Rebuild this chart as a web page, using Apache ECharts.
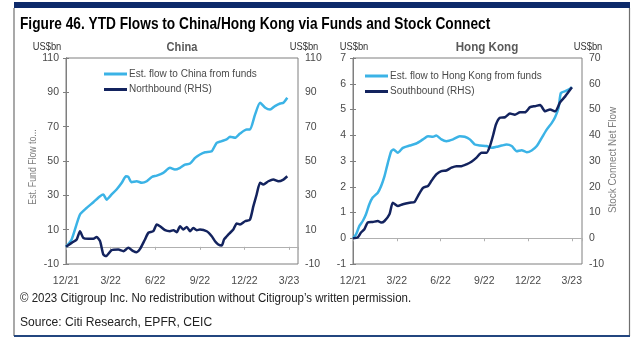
<!DOCTYPE html>
<html><head><meta charset="utf-8">
<script src="https://cdn.jsdelivr.net/npm/echarts@6/dist/echarts.min.js"></script>
<style>html,body{margin:0;padding:0;background:#fff}#c{width:640px;height:341px}</style>
</head><body><div id="c"></div>
<script>
// ---- data (x = months since end of Dec 2021) ----
var quarterLabels = ['12/21','3/22','6/22','9/22','12/22','3/23'];

var chinaFundX = [0,0.38,0.94,1.39,1.84,2.29,2.51,2.73,3.07,3.4,3.75,4.03,4.19,4.41,4.75,5.1,5.43,5.77,6.1,6.54,6.99,7.32,7.67,8.0,8.34,8.68,9.01,9.35,9.8,10.13,10.47,10.8,11.03,11.37,11.7,12.15,12.37,12.71,13.05,13.4,13.72,14.05,14.4,14.62,14.88];
var chinaFundY = [0,4.3,18.8,22.7,26,29.5,30.5,27.5,30.5,33.4,37.3,41.1,40.7,37.6,38.2,37.3,38.2,40.7,41.5,43.1,46,45,46,47.9,48.5,51.8,53.8,55.1,55.7,60.6,61.6,62.6,64.1,63.5,66,68.3,68.3,77,83.9,81,80,82,83.5,83.9,86.8];

var northboundX = [0,0.38,0.72,0.94,1.16,1.5,1.84,2.06,2.29,2.51,2.69,3.07,3.52,3.86,4.19,4.53,4.75,4.98,5.31,5.54,5.87,6.1,6.32,6.66,6.99,7.22,7.44,7.67,7.89,8.12,8.34,8.56,8.79,9.01,9.46,9.8,10.02,10.24,10.47,10.63,10.92,11.25,11.48,11.7,12.04,12.37,12.6,12.82,13.05,13.27,13.61,13.94,14.28,14.62,14.88];
var northboundY = [0,2.3,4.3,9.1,5.2,4.7,4.7,5.8,3.3,-4.5,-5.4,-1.9,-1.6,-2.5,-0.6,-2.5,-3.1,-1.2,4.3,8.2,9.1,13,12,9.7,9.1,9.7,8.5,12,10.1,11.6,9.1,11,9.7,10.1,9.1,6.2,3.3,1.4,0.8,4.3,7.2,10.1,13.6,13,14.9,15.9,23.7,30.5,37.3,36.3,38.2,39.2,38.2,39.2,41.1];

var hkFundX = [0,0.21,0.44,0.67,0.89,1.12,1.35,1.70,1.93,2.16,2.39,2.62,2.78,3.07,3.42,3.88,4.34,4.80,5.14,5.48,5.71,6.06,6.40,6.86,7.32,7.66,8.01,8.35,8.70,9.16,9.50,9.84,10.19,10.53,10.88,11.22,11.56,11.91,12.25,12.60,12.94,13.28,13.63,13.86,14.09,14.25,14.55,14.78,15.01];
var hkFundY = [0,0.15,0.48,0.67,0.93,1.32,1.58,1.77,2.03,2.41,2.93,3.38,3.45,3.32,3.51,3.6,3.68,3.84,3.96,3.94,3.99,3.84,3.77,3.84,3.96,3.94,3.84,3.64,3.6,3.58,3.51,3.55,3.6,3.64,3.58,3.38,3.42,3.34,3.41,3.58,3.9,4.22,4.48,4.71,5.06,5.64,5.71,5.77,5.86];

var southboundX = [0,0.32,0.55,0.78,1.01,1.35,1.70,1.93,2.16,2.50,2.73,3.07,3.42,3.88,4.22,4.45,4.80,5.14,5.37,5.71,6.06,6.40,6.75,7.09,7.43,7.78,8.12,8.47,8.81,9.16,9.39,9.62,9.80,10.07,10.42,10.76,11.10,11.45,11.79,12.14,12.48,12.83,13.17,13.51,13.86,14.20,14.55,15.01];
var southboundY = [0,0.3,2.2,3.5,6.1,6.3,6.7,6.1,6.7,9.3,13.8,12.5,13.2,13.8,14.1,16.4,19.6,20.3,22.2,24.8,26.1,26.3,27.4,28,28,28.7,29.7,31.3,33.2,33.2,35.8,40.3,44.2,46.8,47,48.4,48,48.9,48.9,50.9,51.3,51.7,49.3,50,49.3,52.8,55.1,58.6];

var seriesNames = ['Est. flow to China from funds','Northbound (RHS)','Est. flow to Hong Kong from funds','Southbound (RHS)'];

// ---- styling ----
var FONT = "'Liberation Sans',Arial,sans-serif";
var LIGHT = '#3bb3e6', DARK = '#13235e';
var AX = '#7f7f7f', LBL = '#4a4a4a';

function pairs(xs, ys){ return xs.map(function(x,i){ return [x, ys[i]]; }); }
function qFmt(v){ var i = Math.round(v/3); return (Math.abs(v - i*3) < 1e-6 && i < quarterLabels.length) ? quarterLabels[i] : ''; }

function labelX(g, max){
  return {gridIndex:g, type:'value', min:0, max:max, interval:3, position:'bottom',
    axisLine:{show:false, onZero:false}, axisTick:{show:false}, splitLine:{show:false},
    axisLabel:{formatter:qFmt, color:LBL, fontSize:10.5, fontFamily:FONT, margin:12, showMaxLabel:false}};
}
function zeroX(g, max, yi){
  return {gridIndex:g, type:'value', min:0, max:max, interval:3, position:'bottom',
    axisLine:{show:true, onZero:true, onZeroAxisIndex:yi, lineStyle:{color:'#b0b0b0', width:1}},
    axisTick:{show:true, length:3, lineStyle:{color:'#b0b0b0'}}, axisLabel:{show:false}, splitLine:{show:false}};
}
function yAx(g, pos, min, max, iv){
  return {gridIndex:g, type:'value', position:pos, min:min, max:max, interval:iv,
    axisLine:{show:true, lineStyle:{color:AX}}, axisTick:{show:true, length:3, lineStyle:{color:AX}},
    splitLine:{show:false}, axisLabel:{color:LBL, fontSize:10.5, fontFamily:FONT, margin:7}};
}
function txt(x, y, s, opt){
  opt = opt || {};
  return {type:'text', x:x, y:y, rotation:opt.rot||0, scaleX:opt.sx||1, silent:true,
    style:{text:s, fill:opt.color||LBL, font:(opt.weight||'normal')+' '+(opt.size||11)+'px '+FONT,
      textAlign:opt.align||'center', textVerticalAlign:'middle'}};
}
function legendCfg(names, left, top){
  return {data:names, left:left, top:top, orient:'vertical', icon:'rect', itemWidth:23, itemHeight:3, itemGap:5.5,
    textStyle:{color:LBL, fontSize:10, fontFamily:FONT, padding:[0,0,0,-3]}};
}

var chart = echarts.init(document.getElementById('c'), null, {renderer:'canvas'});
chart.setOption({
  animation:false,
  backgroundColor:'#fff',
  grid:[
    {left:66, top:58, width:232, height:206, show:true, borderColor:AX, borderWidth:1, backgroundColor:'transparent'},
    {left:353, top:58, width:229, height:206, show:true, borderColor:AX, borderWidth:1, backgroundColor:'transparent'}
  ],
  xAxis:[ labelX(0, 15.6), zeroX(0, 15.6, 0), labelX(1, 15.7), zeroX(1, 15.7, 2) ],
  yAxis:[ yAx(0,'left',-10,110,20), yAx(0,'right',-10,110,20), yAx(1,'left',-1,7,1), yAx(1,'right',-10,70,10) ],
  legend:[ legendCfg([seriesNames[0], seriesNames[1]], 99, 64), legendCfg([seriesNames[2], seriesNames[3]], 360, 66) ],
  series:[
    {name:seriesNames[0], type:'line', xAxisIndex:0, yAxisIndex:0, data:pairs(chinaFundX, chinaFundY), symbol:'none', smooth:0.2, lineStyle:{color:LIGHT, width:2.5}, itemStyle:{color:LIGHT}},
    {name:seriesNames[1], type:'line', xAxisIndex:0, yAxisIndex:1, data:pairs(northboundX, northboundY), symbol:'none', smooth:0.2, lineStyle:{color:DARK, width:2.5}, itemStyle:{color:DARK}},
    {name:seriesNames[2], type:'line', xAxisIndex:2, yAxisIndex:2, data:pairs(hkFundX, hkFundY), symbol:'none', smooth:0.2, lineStyle:{color:LIGHT, width:2.5}, itemStyle:{color:LIGHT}},
    {name:seriesNames[3], type:'line', xAxisIndex:2, yAxisIndex:3, data:pairs(southboundX, southboundY), symbol:'none', smooth:0.2, lineStyle:{color:DARK, width:2.5}, itemStyle:{color:DARK}}
  ],
  graphic:[
    {type:'rect', shape:{x:14, y:2, width:616, height:6}, style:{fill:'#0d2a6a'}, silent:true},
    {type:'line', shape:{x1:14, y1:8, x2:14, y2:336}, style:{stroke:'#6f6f6f', lineWidth:1.2}, silent:true},
    {type:'line', shape:{x1:629.5, y1:8, x2:629.5, y2:336}, style:{stroke:'#6f6f6f', lineWidth:1.2}, silent:true},
    {type:'line', shape:{x1:14, y1:336, x2:630, y2:336}, style:{stroke:'#23467f', lineWidth:2}, silent:true},
    txt(20, 24, 'Figure 46. YTD Flows to China/Hong Kong via Funds and Stock Connect', {align:'left', size:16.5, weight:'bold', color:'#000', sx:0.83}),
    txt(47, 47, 'US$bn', {color:'#333', sx:0.85}),
    txt(182, 47, 'China', {size:13.5, weight:'bold', color:'#595959', sx:0.82}),
    txt(304, 47, 'US$bn', {color:'#333', sx:0.85}),
    txt(354, 47, 'US$bn', {color:'#333', sx:0.85}),
    txt(487, 47, 'Hong Kong', {size:13.5, weight:'bold', color:'#595959', sx:0.86}),
    txt(588, 47, 'US$bn', {color:'#333', sx:0.85}),
    txt(33, 167, 'Est. Fund Flow to...', {rot:Math.PI/2, size:11.5, color:'#7f7f7f', sx:0.76}),
    txt(613, 160, 'Stock Connect Net Flow', {rot:Math.PI/2, size:11.5, color:'#7f7f7f', sx:0.86}),
    txt(20, 299, '\u00a9 2023 Citigroup Inc. No redistribution without Citigroup\u2019s written permission.', {align:'left', size:12.5, color:'#222', sx:0.92}),
    txt(20, 322, 'Source: Citi Research, EPFR, CEIC', {align:'left', size:13, color:'#222', sx:0.93})
  ]
});
</script>
</body></html>
